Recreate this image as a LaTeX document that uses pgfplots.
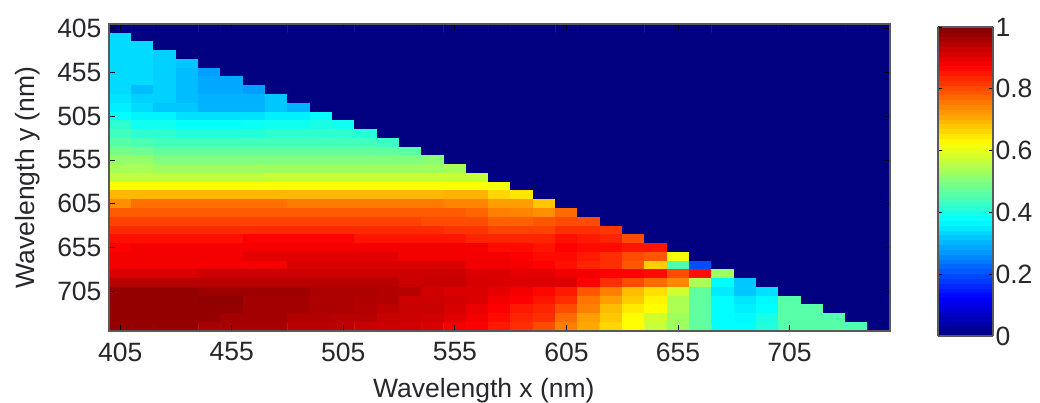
\documentclass[border=0pt]{standalone}
\usepackage{fontspec}
\setmainfont{Liberation Sans}
\usepackage{pgfplots}
\pgfplotsset{compat=1.18}
\definecolor{txt}{rgb}{0.15,0.15,0.17}
\begin{document}
\begin{tikzpicture}[x=1pt,y=1pt]
\path[use as bounding box] (0,0) rectangle (1040,403);
\begin{axis}[
  at={(109pt,72pt)},anchor=south west,
  scale only axis,width=781pt,height=307pt,
  xmin=400,xmax=750,ymin=400,ymax=750,
  y dir=reverse,
  xtick={405,455,505,555,605,655,705},
  ytick={405,455,505,555,605,655,705},
  tick align=inside,
  major tick length=6pt,
  tick style={black,line width=0.9pt},
  axis line style={draw=black!65,line width=1.2pt},
  axis on top,
  /pgf/number format/assume math mode=true,
  /pgf/number format/1000 sep={},
  tick label style={font=\fontsize{26.5}{28}\selectfont,text=txt},
  xticklabel style={yshift=-8pt},
  yticklabel style={xshift=-4pt},
  label style={font=\fontsize{26.5}{28}\selectfont,text=txt},
  xlabel={Wavelength x (nm)},
  ylabel={Wavelength y (nm)},
  xlabel style={at={(rel axis cs:0.48,0)},anchor=north,yshift=-44pt},
  ylabel style={at={(rel axis cs:0,0.5)},anchor=south,yshift=65pt},
  colormap={jetm}{rgb(0pt)=(0,0,0.5); rgb(1pt)=(0,0,1); rgb(3pt)=(0,1,1); rgb(5pt)=(1,1,0); rgb(7pt)=(1,0,0); rgb(8pt)=(0.5,0,0)},
  point meta min=0,point meta max=1,
  colorbar sampled,
  colorbar style={
    samples=65,
    at={(1.0615,-0.0163)},anchor=south west,
    width=55pt,height=309pt,
    ytick={0,0.2,0.4,0.6,0.8,1},
    yticklabel pos=right,
    /pgf/number format/assume math mode=true,
    /pgf/number format/fixed,
    yticklabel style={font=\fontsize{26.5}{28}\selectfont,text=txt,xshift=-1pt},
    tick align=inside,
    major tick length=4pt,
    ytick pos=both,
    tick style={black,line width=0.9pt},
    axis line style={draw=black!65,line width=1.2pt},
  },
]
\addplot[matrix plot*,mesh/cols=35,point meta=explicit] table[row sep=crcr,header=false,
  x expr={405+10*mod(\coordindex,35)},
  y expr={405+10*floor((\coordindex+0.5)/35)},
  meta index=0] {
0\\0\\0\\0\\0\\ 0\\0\\0\\0\\0\\ 0\\0\\0\\0\\0\\ 0\\0\\0\\0\\0\\ 0\\0\\0\\0\\0\\ 0\\0\\0\\0\\0\\ 0\\0\\0\\0\\0\\
.34\\0\\0\\0\\0\\ 0\\0\\0\\0\\0\\ 0\\0\\0\\0\\0\\ 0\\0\\0\\0\\0\\ 0\\0\\0\\0\\0\\ 0\\0\\0\\0\\0\\ 0\\0\\0\\0\\0\\
.34\\.34\\0\\0\\0\\ 0\\0\\0\\0\\0\\ 0\\0\\0\\0\\0\\ 0\\0\\0\\0\\0\\ 0\\0\\0\\0\\0\\ 0\\0\\0\\0\\0\\ 0\\0\\0\\0\\0\\
.34\\.34\\.33\\0\\0\\ 0\\0\\0\\0\\0\\ 0\\0\\0\\0\\0\\ 0\\0\\0\\0\\0\\ 0\\0\\0\\0\\0\\ 0\\0\\0\\0\\0\\ 0\\0\\0\\0\\0\\
.34\\.34\\.33\\.32\\0\\ 0\\0\\0\\0\\0\\ 0\\0\\0\\0\\0\\ 0\\0\\0\\0\\0\\ 0\\0\\0\\0\\0\\ 0\\0\\0\\0\\0\\ 0\\0\\0\\0\\0\\
.34\\.34\\.33\\.31\\.28\\ 0\\0\\0\\0\\0\\ 0\\0\\0\\0\\0\\ 0\\0\\0\\0\\0\\ 0\\0\\0\\0\\0\\ 0\\0\\0\\0\\0\\ 0\\0\\0\\0\\0\\
.34\\.34\\.33\\.31\\.29\\ .29\\0\\0\\0\\0\\ 0\\0\\0\\0\\0\\ 0\\0\\0\\0\\0\\ 0\\0\\0\\0\\0\\ 0\\0\\0\\0\\0\\ 0\\0\\0\\0\\0\\
.34\\.31\\.33\\.31\\.29\\ .29\\.28\\0\\0\\0\\ 0\\0\\0\\0\\0\\ 0\\0\\0\\0\\0\\ 0\\0\\0\\0\\0\\ 0\\0\\0\\0\\0\\ 0\\0\\0\\0\\0\\
.35\\.33\\.33\\.31\\.30\\ .30\\.30\\.32\\0\\0\\ 0\\0\\0\\0\\0\\ 0\\0\\0\\0\\0\\ 0\\0\\0\\0\\0\\ 0\\0\\0\\0\\0\\ 0\\0\\0\\0\\0\\
.36\\.34\\.32\\.32\\.30\\ .30\\.30\\.32\\.30\\0\\ 0\\0\\0\\0\\0\\ 0\\0\\0\\0\\0\\ 0\\0\\0\\0\\0\\ 0\\0\\0\\0\\0\\ 0\\0\\0\\0\\0\\
.375\\.365\\.365\\.345\\.345\\ .345\\.345\\.36\\.36\\.38\\ 0\\0\\0\\0\\0\\ 0\\0\\0\\0\\0\\ 0\\0\\0\\0\\0\\ 0\\0\\0\\0\\0\\ 0\\0\\0\\0\\0\\
.42\\.39\\.39\\.38\\.38\\ .38\\.385\\.39\\.39\\.40\\ .39\\0\\0\\0\\0\\ 0\\0\\0\\0\\0\\ 0\\0\\0\\0\\0\\ 0\\0\\0\\0\\0\\ 0\\0\\0\\0\\0\\
.44\\.42\\.42\\.41\\.41\\ .41\\.41\\.42\\.42\\.42\\ .42\\.41\\0\\0\\0\\ 0\\0\\0\\0\\0\\ 0\\0\\0\\0\\0\\ 0\\0\\0\\0\\0\\ 0\\0\\0\\0\\0\\
.46\\.45\\.44\\.44\\.44\\ .44\\.44\\.44\\.44\\.44\\ .44\\.44\\.43\\0\\0\\ 0\\0\\0\\0\\0\\ 0\\0\\0\\0\\0\\ 0\\0\\0\\0\\0\\ 0\\0\\0\\0\\0\\
.49\\.48\\.47\\.47\\.47\\ .47\\.47\\.47\\.47\\.47\\ .47\\.47\\.47\\.46\\0\\ 0\\0\\0\\0\\0\\ 0\\0\\0\\0\\0\\ 0\\0\\0\\0\\0\\ 0\\0\\0\\0\\0\\
.52\\.52\\.50\\.50\\.50\\ .50\\.50\\.50\\.50\\.50\\ .50\\.50\\.50\\.50\\.51\\ 0\\0\\0\\0\\0\\ 0\\0\\0\\0\\0\\ 0\\0\\0\\0\\0\\ 0\\0\\0\\0\\0\\
.54\\.54\\.53\\.53\\.53\\ .53\\.53\\.53\\.53\\.53\\ .53\\.53\\.53\\.53\\.53\\ .54\\0\\0\\0\\0\\ 0\\0\\0\\0\\0\\ 0\\0\\0\\0\\0\\ 0\\0\\0\\0\\0\\
.56\\.56\\.56\\.56\\.56\\ .56\\.56\\.57\\.57\\.57\\ .57\\.57\\.57\\.57\\.57\\ .57\\.57\\0\\0\\0\\ 0\\0\\0\\0\\0\\ 0\\0\\0\\0\\0\\ 0\\0\\0\\0\\0\\
.625\\.625\\.625\\.625\\.625\\ .625\\.625\\.625\\.625\\.625\\ .625\\.625\\.625\\.625\\.625\\ .625\\.625\\.615\\0\\0\\ 0\\0\\0\\0\\0\\ 0\\0\\0\\0\\0\\ 0\\0\\0\\0\\0\\
.695\\.695\\.695\\.695\\.695\\ .695\\.695\\.695\\.695\\.695\\ .695\\.695\\.695\\.695\\.695\\ .70\\.70\\.665\\.65\\0\\ 0\\0\\0\\0\\0\\ 0\\0\\0\\0\\0\\ 0\\0\\0\\0\\0\\
.735\\.765\\.765\\.765\\.765\\ .765\\.765\\.765\\.755\\.755\\ .755\\.755\\.755\\.755\\.755\\ .745\\.745\\.72\\.72\\.68\\ 0\\0\\0\\0\\0\\ 0\\0\\0\\0\\0\\ 0\\0\\0\\0\\0\\
.785\\.785\\.785\\.785\\.785\\ .785\\.785\\.785\\.785\\.785\\ .785\\.785\\.785\\.785\\.785\\ .785\\.775\\.75\\.745\\.735\\ .77\\0\\0\\0\\0\\ 0\\0\\0\\0\\0\\ 0\\0\\0\\0\\0\\
.81\\.81\\.81\\.81\\.81\\ .81\\.81\\.81\\.81\\.81\\ .81\\.81\\.81\\.81\\.80\\ .80\\.80\\.78\\.78\\.79\\ .80\\.80\\0\\0\\0\\ 0\\0\\0\\0\\0\\ 0\\0\\0\\0\\0\\
.835\\.835\\.835\\.835\\.835\\ .835\\.835\\.835\\.835\\.835\\ .835\\.835\\.835\\.835\\.835\\ .825\\.825\\.81\\.81\\.81\\ .83\\.83\\.82\\0\\0\\ 0\\0\\0\\0\\0\\ 0\\0\\0\\0\\0\\
.86\\.86\\.86\\.86\\.86\\ .86\\.875\\.875\\.875\\.875\\ .875\\.855\\.855\\.855\\.855\\ .855\\.84\\.84\\.84\\.84\\ .86\\.85\\.84\\.80\\0\\ 0\\0\\0\\0\\0\\ 0\\0\\0\\0\\0\\
.875\\.885\\.885\\.885\\.885\\ .885\\.885\\.885\\.885\\.885\\ .885\\.885\\.885\\.885\\.885\\ .885\\.885\\.865\\.865\\.855\\ .875\\.865\\.865\\.855\\.855\\ 0\\0\\0\\0\\0\\ 0\\0\\0\\0\\0\\
.885\\.885\\.885\\.885\\.885\\ .885\\.90\\.90\\.90\\.90\\ .90\\.90\\.90\\.885\\.885\\ .885\\.885\\.885\\.875\\.865\\ .865\\.85\\.83\\.80\\.79\\ .615\\0\\0\\0\\0\\ 0\\0\\0\\0\\0\\
.885\\.885\\.885\\.885\\.885\\ .885\\.885\\.885\\.91\\.91\\ .91\\.91\\.91\\.91\\.91\\ .91\\.89\\.89\\.885\\.875\\ .86\\.84\\.83\\.79\\.67\\ .45\\.20\\0\\0\\0\\ 0\\0\\0\\0\\0\\
.91\\.91\\.91\\.91\\.925\\ .925\\.925\\.925\\.925\\.925\\ .925\\.925\\.925\\.925\\.925\\ .925\\.91\\.91\\.90\\.90\\ .89\\.885\\.875\\.875\\.865\\ .80\\.86\\.53\\0\\0\\ 0\\0\\0\\0\\0\\
.945\\.945\\.945\\.945\\.945\\ .945\\.945\\.945\\.945\\.945\\ .945\\.945\\.945\\.925\\.93\\ .93\\.915\\.91\\.91\\.91\\ .91\\.875\\.83\\.80\\.77\\ .74\\.545\\.375\\.32\\0\\ 0\\0\\0\\0\\0\\
.98\\.98\\.98\\.98\\.97\\ .97\\.97\\.97\\.97\\.955\\ .955\\.955\\.95\\.945\\.92\\ .91\\.91\\.90\\.885\\.87\\ .85\\.79\\.75\\.69\\.655\\ .58\\.47\\.355\\.32\\.345\\ 0\\0\\0\\0\\0\\
.98\\.98\\.98\\.98\\.985\\ .985\\.965\\.965\\.965\\.955\\ .955\\.95\\.95\\.925\\.925\\ .92\\.91\\.885\\.875\\.855\\ .83\\.76\\.72\\.675\\.635\\ .545\\.47\\.375\\.35\\.37\\ .46\\0\\0\\0\\0\\
.98\\.98\\.98\\.98\\.98\\ .98\\.965\\.965\\.965\\.955\\ .955\\.95\\.94\\.93\\.93\\ .915\\.895\\.875\\.85\\.84\\ .80\\.75\\.69\\.645\\.625\\ .545\\.47\\.375\\.36\\.375\\ .46\\.46\\0\\0\\0\\
.98\\.98\\.98\\.98\\.98\\ .965\\.965\\.965\\.95\\.95\\ .945\\.945\\.93\\.925\\.92\\ .905\\.885\\.865\\.84\\.83\\ .77\\.72\\.68\\.625\\.58\\ .53\\.47\\.375\\.37\\.40\\ .46\\.46\\.46\\0\\0\\
.98\\.98\\.98\\.98\\.96\\ .96\\.96\\.96\\.945\\.945\\ .94\\.93\\.925\\.92\\.91\\ .885\\.875\\.85\\.83\\.80\\ .75\\.71\\.665\\.625\\.57\\ .53\\.47\\.375\\.375\\.41\\ .46\\.46\\.46\\.45\\0\\
};
\end{axis}
\end{tikzpicture}
\end{document}
